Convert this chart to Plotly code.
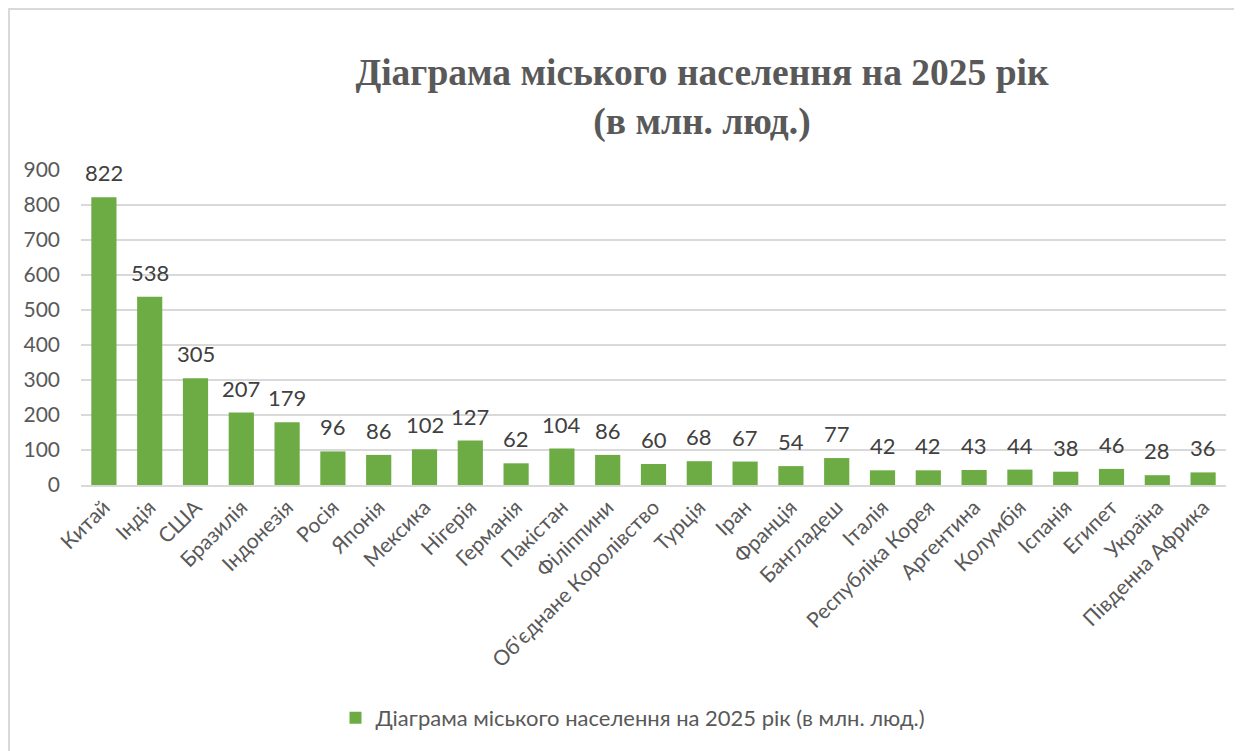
import plotly.graph_objects as go

countries = ["Китай", "Індія", "США", "Бразилія", "Індонезія", "Росія", "Японія", "Мексика",
             "Нігерія", "Германія", "Пакістан", "Філіппини", "Об'єднане Королівство", "Турція",
             "Іран", "Франція", "Бангладеш", "Італія", "Республіка Корея", "Аргентина",
             "Колумбія", "Іспанія", "Египет", "Україна", "Південна Африка"]
values = [822, 538, 305, 207, 179, 96, 86, 102, 127, 62, 104, 86, 60, 68, 67, 54, 77,
          42, 42, 43, 44, 38, 46, 28, 36]
series_name = "Діаграма міського населення на 2025 рік (в млн. люд.)"
title_text = "<b>Діаграма міського населення на 2025 рік<br>(в млн. люд.)</b>"

# page body has an 8px margin, so figure coords = picture coords - 8
OFF = 8
W, H = 1242, 751
L, T = 81 - OFF, 170 - OFF
R = W - (1226 - OFF)
B = H - (485 - OFF)
pw, ph = W - L - R, H - T - B


def py(pix):
    return (485 - pix) / ph


def px(pix):
    return (pix - 81) / pw


fig = go.Figure()
fig.add_trace(go.Bar(
    x=countries, y=values, name=series_name,
    marker=dict(color="#6dac45", line=dict(width=0)),
    width=0.55,
    showlegend=True,
))

for c, v in zip(countries, values):
    fig.add_annotation(x=c, y=v, text=str(v), showarrow=False, yanchor="bottom",
                       yshift=9, font=dict(family="Lato", size=22, color="#404040"))

fig.update_layout(
    width=W, height=H,
    margin=dict(l=L, r=R, t=T, b=B, autoexpand=False),
    paper_bgcolor="white", plot_bgcolor="white",
    title=dict(text=title_text, x=(702 - OFF) / W, xanchor="center",
               y=1 - (85 - OFF) / H, yanchor="top",
               font=dict(family="Liberation Serif", size=37.5, color="#595959")),
    showlegend=True,
    legend=dict(orientation="h", x=px(633), xanchor="center",
                y=py(718), yanchor="middle",
                font=dict(family="Lato", size=22, color="#595959")),
    xaxis=dict(tickangle=-45, tickfont=dict(family="Lato", size=21, color="#595959"),
               showgrid=False, showline=True, linecolor="#d9d9d9", linewidth=1.5,
               ticks="", automargin=False),
    yaxis=dict(range=[0, 900], dtick=100, tickfont=dict(family="Lato", size=21, color="#595959"),
               showgrid=True, gridcolor="#d9d9d9", gridwidth=1.5, zeroline=False,
               ticks="", ticklabelstandoff=20, automargin=False),
)

fig.add_shape(type="rect", xref="paper", yref="paper",
              x0=px(9), x1=px(1260), y0=py(770), y1=py(9),
              line=dict(color="#d9d9d9", width=2), fillcolor="rgba(0,0,0,0)", layer="below")

fig.write_html("out.html")
